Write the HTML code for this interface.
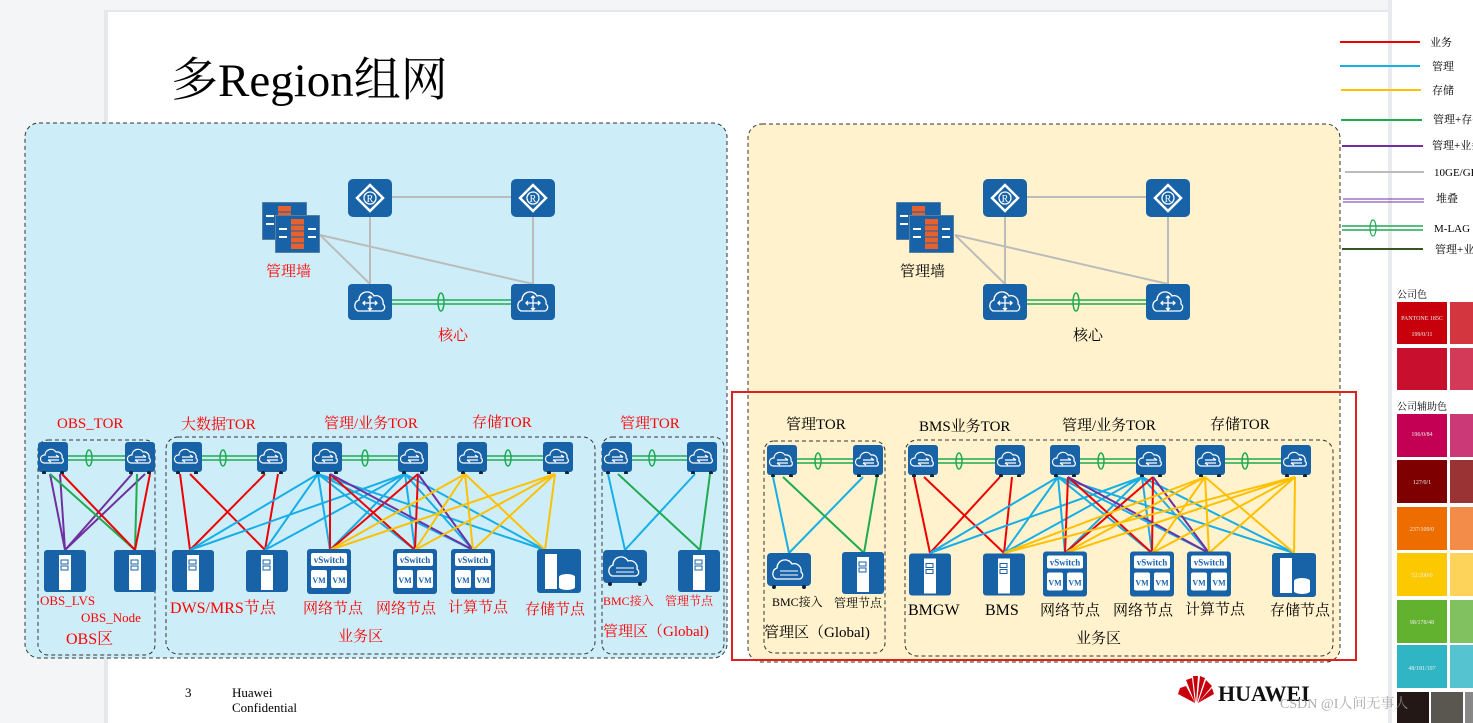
<!DOCTYPE html>
<html><head><meta charset="utf-8"><style>
html,body{margin:0;padding:0;width:1473px;height:723px;overflow:hidden;background:#f4f5f7}
svg{display:block}
text{font-family:"Liberation Serif","Noto Serif CJK SC","Noto Sans CJK SC",serif}
.r{fill:#f00}.k{fill:#000}
</style></head><body>
<svg width="1473" height="723" viewBox="0 0 1473 723" xmlns="http://www.w3.org/2000/svg">
<defs>
<symbol id="sw" viewBox="0 0 30 32"><rect x="0" y="0" width="30" height="30" rx="3" fill="#1862a8"/><path d="M6 21 a4 4 0 0 1 1-8 a6 6 0 0 1 11-3 a5 5 0 0 1 6 6 a3 3 0 0 1 0 5z" fill="none" stroke="#fff" stroke-width="1.2"/><path d="M10 15h11M18 13l3 2M10 18h11M10 18l3 2" stroke="#fff" stroke-width="1.2" fill="none"/><circle cx="6" cy="31" r="2" fill="#123"/><circle cx="24" cy="31" r="2" fill="#123"/></symbol>
<symbol id="rt" viewBox="0 0 44 38"><rect width="44" height="38" rx="5" fill="#1862a8"/><path d="M22 6 L35 19 L22 32 L9 19Z" fill="none" stroke="#fff" stroke-width="2.5"/><circle cx="22" cy="19" r="6" fill="none" stroke="#fff" stroke-width="1.3"/><text x="22" y="23" font-size="10" fill="#fff" text-anchor="middle" font-family="Liberation Sans,sans-serif">R</text></symbol>
<symbol id="cr" viewBox="0 0 44 36"><rect width="44" height="36" rx="4" fill="#1862a8"/><path d="M10 27 a6 6 0 0 1 1-11 a8 8 0 0 1 15-4 a7 7 0 0 1 9 8 a4 4 0 0 1-1 7z" fill="none" stroke="#fff" stroke-width="1.3"/><path d="M22 12v14M15 19h14M20 14l2-2 2 2M20 24l2 2 2-2M17 17l-2 2 2 2M27 17l2 2-2 2" fill="none" stroke="#fff" stroke-width="1.3"/></symbol>
<symbol id="fw" viewBox="0 0 45 38"><rect width="45" height="38" fill="#1862a8" stroke="#999"/><rect x="16" y="4" width="13" height="30" fill="#e8602c"/><path d="M16 10h13M16 16h13M16 22h13M16 28h13" stroke="#1862a8"/><path d="M4 14h8M4 22h8M33 14h8M33 22h8" stroke="#fff" stroke-width="2"/></symbol>
<symbol id="sv" viewBox="0 0 42 42"><rect width="42" height="42" rx="3" fill="#1862a8"/><rect x="15" y="5" width="12" height="35" fill="#fff"/><rect x="17" y="10" width="7" height="4" fill="none" stroke="#1862a8"/><rect x="17" y="16" width="7" height="4" fill="none" stroke="#1862a8"/></symbol>
<symbol id="st" viewBox="0 0 44 44"><rect width="44" height="44" rx="3" fill="#1862a8"/><rect x="8" y="5" width="12" height="35" fill="#fff"/><ellipse cx="30" cy="28" rx="8" ry="3" fill="#fff"/><rect x="22" y="28" width="16" height="10" fill="#fff"/><ellipse cx="30" cy="38" rx="8" ry="3" fill="#fff"/></symbol>
<symbol id="vs" viewBox="0 0 44 45"><rect width="44" height="45" rx="3" fill="#1862a8"/><rect x="4" y="4" width="36" height="13" rx="2" fill="#fff"/><text x="22" y="14" font-size="9" font-weight="bold" fill="#1862a8" text-anchor="middle" font-family="Liberation Sans,sans-serif">vSwitch</text><rect x="4" y="21" width="16" height="18" rx="2" fill="#fff"/><rect x="24" y="21" width="16" height="18" rx="2" fill="#fff"/><text x="12" y="34" font-size="8" font-weight="bold" fill="#1862a8" text-anchor="middle" font-family="Liberation Sans,sans-serif">VM</text><text x="32" y="34" font-size="8" font-weight="bold" fill="#1862a8" text-anchor="middle" font-family="Liberation Sans,sans-serif">VM</text></symbol>
<symbol id="bm" viewBox="0 0 44 36"><rect width="44" height="33" rx="4" fill="#1862a8"/><path d="M9 26 a6 6 0 0 1 1-11 a8 8 0 0 1 15-4 a7 7 0 0 1 9 8 a4 4 0 0 1-1 7z" fill="none" stroke="#fff" stroke-width="1.3"/><path d="M13 18h18M13 22h18" stroke="#fff"/><circle cx="7" cy="34" r="2" fill="#123"/><circle cx="37" cy="34" r="2" fill="#123"/></symbol>
</defs>

<rect x="104" y="10" width="1288" height="713" fill="#e6e7ea"/>
<rect x="108" y="12" width="1280" height="711" fill="#fff"/>
<rect x="1388" y="0" width="4" height="723" fill="#e9eaed"/>
<rect x="1392" y="0" width="81" height="723" fill="#fff"/>
<text x="171" y="96" font-size="47">多Region组网</text>

<rect x="25" y="123" width="702" height="535" rx="14" fill="#cdeef9" stroke="#333" stroke-dasharray="4 3"/>
<rect x="748" y="124" width="592" height="538" rx="14" fill="#fff2cc" stroke="#333" stroke-dasharray="4 3"/>
<rect x="732" y="392" width="624" height="268" fill="none" stroke="#e02020" stroke-width="2"/>
<g fill="none" stroke="#333" stroke-dasharray="4 3">
<rect x="38" y="440" width="117" height="215" rx="10"/>
<rect x="166" y="437" width="429" height="217" rx="12"/>
<rect x="602" y="437" width="122" height="217" rx="10"/>
<rect x="764" y="441" width="121" height="212" rx="10"/>
<rect x="905" y="440" width="428" height="216" rx="12"/>
</g>

<g stroke="#bbb" stroke-width="2" fill="none">
<path d="M392 197H511M370 216V284M533 216V284M320 235L370 284M320 235L533 284"/>
<path d="M1027 197H1146M1005 216V284M1168 216V284M955 235L1005 284M955 235L1168 284"/>
</g>
<g stroke="#1faa50" stroke-width="1.5" fill="none">
<path d="M392 300H511M392 304H511M1027 300H1146M1027 304H1146"/>
<ellipse cx="441" cy="302" rx="3" ry="9"/><ellipse cx="1076" cy="302" rx="3" ry="9"/>
</g>
<use href="#rt" x="348" y="179" width="44" height="38"/><use href="#rt" x="511" y="179" width="44" height="38"/>
<use href="#rt" x="983" y="179" width="44" height="38"/><use href="#rt" x="1146" y="179" width="44" height="38"/>
<use href="#cr" x="348" y="284" width="44" height="36"/><use href="#cr" x="511" y="284" width="44" height="36"/>
<use href="#cr" x="983" y="284" width="44" height="36"/><use href="#cr" x="1146" y="284" width="44" height="36"/>
<use href="#fw" x="262" y="202" width="45" height="38"/><use href="#fw" x="275" y="215" width="45" height="38"/>
<use href="#fw" x="896" y="202" width="45" height="38"/><use href="#fw" x="909" y="215" width="45" height="38"/>
<text x="266" y="276" font-size="15" class="r" font-family="Liberation Sans,'Noto Sans CJK SC',sans-serif">管理墙</text>
<text x="438" y="340" font-size="15" class="r" font-family="Liberation Sans,'Noto Sans CJK SC',sans-serif">核心</text>
<text x="900" y="276" font-size="15" class="k" font-family="Liberation Sans,'Noto Sans CJK SC',sans-serif">管理墙</text>
<text x="1073" y="340" font-size="15" class="k" font-family="Liberation Sans,'Noto Sans CJK SC',sans-serif">核心</text>

<g stroke-width="2" fill="none">
<path stroke="#7030a0" d="M50 474L65 550M60 474L65 550M132 474L65 550M145 474L65 550"/>
<path stroke="#1faa50" d="M50 474L135 550M137 474L135 550"/>
<path stroke="#e00" d="M62 474L135 550M150 474L135 550"/>
<path stroke="#e00" d="M180 474L190 550M190 474L265 550M265 474L190 550M278 474L265 550"/>
<path stroke="#17aee8" d="M318 474L190 550M318 474L265 550M318 474L330 550M318 474L415 550M318 474L473 550M318 474L545 550M405 474L190 550M405 474L265 550M405 474L330 550M405 474L415 550M405 474L473 550M405 474L545 550"/>
<path stroke="#e00" d="M330 474L330 550M330 474L415 550M418 474L330 550M418 474L415 550"/>
<path stroke="#7030a0" d="M330 474L473 550M418 474L473 550"/>
<path stroke="#ffc000" d="M465 474L330 550M465 474L415 550M465 474L473 550M465 474L545 550M555 474L330 550M555 474L415 550M555 474L473 550M555 474L545 550"/>
<path stroke="#17aee8" d="M608 474L625 550M695 474L625 550"/>
<path stroke="#1faa50" d="M618 474L700 550M710 474L700 550"/>
</g>
<g stroke-width="2" fill="none">
<path stroke="#17aee8" d="M773 477L789 553M863 477L789 553"/>
<path stroke="#1faa50" d="M783 477L864 553M877 477L864 553"/>
<path stroke="#e00" d="M914 477L930 553M924 477L1004 553M1000 477L930 553M1012 477L1004 553"/>
<path stroke="#17aee8" d="M1058 477L930 553M1058 477L1004 553M1058 477L1065 553M1058 477L1152 553M1058 477L1209 553M1058 477L1294 553M1142 477L930 553M1142 477L1004 553M1142 477L1065 553M1142 477L1152 553M1142 477L1209 553M1142 477L1294 553"/>
<path stroke="#e00" d="M1068 477L1065 553M1068 477L1152 553M1153 477L1065 553M1153 477L1152 553"/>
<path stroke="#7030a0" d="M1068 477L1209 553M1153 477L1209 553"/>
<path stroke="#ffc000" d="M1205 477L1004 553M1205 477L1065 553M1205 477L1152 553M1205 477L1209 553M1205 477L1294 553M1295 477L1004 553M1295 477L1065 553M1295 477L1152 553M1295 477L1209 553M1295 477L1294 553"/>
</g>

<g stroke="#1faa50" stroke-width="1.5" fill="none">
<path d="M68 456H125M68 460H125M202 456H257M202 460H257M342 456H398M342 460H398M487 456H543M487 460H543M632 456H687M632 460H687"/>
<path d="M797 459H853M797 463H853M938 459H995M938 463H995M1080 459H1136M1080 463H1136M1225 459H1281M1225 463H1281"/>
<g><ellipse cx="89" cy="458" rx="3" ry="8"/><ellipse cx="223" cy="458" rx="3" ry="8"/><ellipse cx="365" cy="458" rx="3" ry="8"/><ellipse cx="508" cy="458" rx="3" ry="8"/><ellipse cx="652" cy="458" rx="3" ry="8"/>
<ellipse cx="818" cy="461" rx="3" ry="8"/><ellipse cx="959" cy="461" rx="3" ry="8"/><ellipse cx="1101" cy="461" rx="3" ry="8"/><ellipse cx="1245" cy="461" rx="3" ry="8"/></g>
</g>

<g>
<use href="#sw" x="38" y="442" width="30" height="32"/><use href="#sw" x="125" y="442" width="30" height="32"/>
<use href="#sw" x="172" y="442" width="30" height="32"/><use href="#sw" x="257" y="442" width="30" height="32"/>
<use href="#sw" x="312" y="442" width="30" height="32"/><use href="#sw" x="398" y="442" width="30" height="32"/>
<use href="#sw" x="457" y="442" width="30" height="32"/><use href="#sw" x="543" y="442" width="30" height="32"/>
<use href="#sw" x="602" y="442" width="30" height="32"/><use href="#sw" x="687" y="442" width="30" height="32"/>
<use href="#sw" x="767" y="445" width="30" height="32"/><use href="#sw" x="853" y="445" width="30" height="32"/>
<use href="#sw" x="908" y="445" width="30" height="32"/><use href="#sw" x="995" y="445" width="30" height="32"/>
<use href="#sw" x="1050" y="445" width="30" height="32"/><use href="#sw" x="1136" y="445" width="30" height="32"/>
<use href="#sw" x="1195" y="445" width="30" height="32"/><use href="#sw" x="1281" y="445" width="30" height="32"/>
</g>
<use href="#sv" x="44" y="550" width="42" height="42"/><use href="#sv" x="114" y="550" width="42" height="42"/>
<use href="#sv" x="172" y="550" width="42" height="42"/><use href="#sv" x="246" y="550" width="42" height="42"/>
<use href="#vs" x="307" y="549" width="44" height="45"/><use href="#vs" x="393" y="549" width="44" height="45"/><use href="#vs" x="451" y="549" width="44" height="45"/>
<use href="#st" x="537" y="549" width="44" height="44"/>
<use href="#bm" x="603" y="550" width="44" height="36"/><use href="#sv" x="678" y="550" width="42" height="42"/>
<use href="#bm" x="767" y="553" width="44" height="36"/><use href="#sv" x="842" y="552" width="42" height="42"/>
<use href="#sv" x="909" y="553" width="42" height="43"/><use href="#sv" x="983" y="553" width="42" height="43"/>
<use href="#vs" x="1043" y="551" width="44" height="46"/><use href="#vs" x="1130" y="551" width="44" height="46"/><use href="#vs" x="1187" y="551" width="44" height="46"/>
<use href="#st" x="1272" y="553" width="44" height="44"/>

<g class="r" font-size="15">
<text x="57" y="428">OBS_TOR</text><text x="181" y="429">大数据TOR</text><text x="324" y="428">管理/业务TOR</text><text x="472" y="427">存储TOR</text><text x="620" y="428">管理TOR</text>
<text x="40" y="605" font-size="13">OBS_LVS</text><text x="81" y="622" font-size="13">OBS_Node</text><text x="66" y="644" font-size="16">OBS区</text>
<text x="170" y="613" font-size="16">DWS/MRS节点</text><text x="303" y="613" font-size="15">网络节点</text><text x="376" y="613" font-size="15">网络节点</text><text x="448" y="612" font-size="15">计算节点</text><text x="525" y="614" font-size="15">存储节点</text>
<text x="338" y="641" font-size="15">业务区</text>
<text x="603" y="605" font-size="12">BMC接入</text><text x="665" y="605" font-size="12">管理节点</text>
<text x="603" y="636" font-size="15">管理区（Global)</text>
</g>
<g class="k" font-size="15">
<text x="786" y="429">管理TOR</text><text x="919" y="431">BMS业务TOR</text><text x="1062" y="430">管理/业务TOR</text><text x="1210" y="429">存储TOR</text>
<text x="772" y="606" font-size="12">BMC接入</text><text x="834" y="607" font-size="12">管理节点</text>
<text x="764" y="637" font-size="15">管理区（Global)</text>
<text x="908" y="615" font-size="16">BMGW</text><text x="985" y="615" font-size="16">BMS</text><text x="1040" y="615">网络节点</text><text x="1113" y="615">网络节点</text><text x="1185" y="614">计算节点</text><text x="1270" y="615">存储节点</text>
<text x="1076" y="643">业务区</text>
</g>

<g stroke-width="2" fill="none">
<path d="M1340 42H1420" stroke="#e00"/><path d="M1340 66H1420" stroke="#17aee8"/><path d="M1341 90H1421" stroke="#ffc000"/>
<path d="M1341 120H1422" stroke="#1faa50"/><path d="M1342 146H1423" stroke="#7030a0"/><path d="M1345 172H1424" stroke="#bbb"/>
<path d="M1343 199H1424M1343 202H1424" stroke="#7030a0" stroke-width="1"/>
<path d="M1342 226H1423M1342 230H1423" stroke="#1faa50" stroke-width="1.5"/><ellipse cx="1373" cy="228" rx="3" ry="8" stroke="#1faa50" stroke-width="1.2"/>
<path d="M1342 249H1423" stroke="#375623"/>
</g>
<g font-size="11" class="k" font-family="'Noto Sans CJK SC',sans-serif">
<text x="1430" y="46">业务</text><text x="1432" y="70">管理</text><text x="1432" y="94">存储</text><text x="1433" y="123">管理+存储</text><text x="1432" y="149">管理+业务</text>
<text x="1434" y="176" font-family="Liberation Serif,serif">10GE/GE</text><text x="1436" y="202">堆叠</text><text x="1434" y="232" font-family="Liberation Serif,serif">M-LAG</text><text x="1435" y="253">管理+业务</text>
</g>
<g font-size="10" font-family="'Noto Sans CJK SC',sans-serif">
<text x="1397" y="298">公司色</text><text x="1397" y="410">公司辅助色</text>
</g>
<rect x="1397" y="302" width="50" height="42" fill="#c7000b"/><rect x="1450" y="302" width="23" height="42" fill="#d3363f"/>
<rect x="1397" y="348" width="50" height="42" fill="#c8102e"/><rect x="1450" y="348" width="23" height="42" fill="#d33a58"/>
<rect x="1397" y="414" width="50" height="43" fill="#c40054"/><rect x="1450" y="414" width="23" height="43" fill="#cb3a76"/>
<rect x="1397" y="460" width="50" height="43" fill="#7f0001"/><rect x="1450" y="460" width="23" height="43" fill="#993334"/>
<rect x="1397" y="507" width="50" height="43" fill="#ed6d00"/><rect x="1450" y="507" width="23" height="43" fill="#f28c48"/>
<rect x="1397" y="553" width="50" height="43" fill="#fcc800"/><rect x="1450" y="553" width="23" height="43" fill="#fdd35a"/>
<rect x="1397" y="600" width="50" height="43" fill="#62b230"/><rect x="1450" y="600" width="23" height="43" fill="#81c160"/>
<rect x="1397" y="645" width="50" height="43" fill="#30b5c5"/><rect x="1450" y="645" width="23" height="43" fill="#56c3d1"/>
<rect x="1397" y="692" width="32" height="31" fill="#231815"/><rect x="1431" y="692" width="32" height="31" fill="#59574f"/><rect x="1465" y="692" width="8" height="31" fill="#888"/>
<g fill="#eee" font-size="6" text-anchor="middle" font-family="Liberation Sans,sans-serif">
<text x="1422" y="320">PANTONE 185C</text><text x="1422" y="336">199/0/11</text><text x="1422" y="436">196/0/84</text><text x="1422" y="484">127/0/1</text><text x="1422" y="531">237/109/0</text><text x="1422" y="577">52/200/0</text><text x="1422" y="624">98/178/48</text><text x="1422" y="670">48/181/197</text>
</g>

<text x="185" y="697" font-size="13">3</text>
<text x="232" y="697" font-size="13">Huawei</text><text x="232" y="712" font-size="13">Confidential</text>
<g fill="#c7000b"><path d="M1195 703 L1180 688 L1186 686Z M1195 703 L1186 680 L1192 678Z M1196 703 L1193 676 L1198 676Z M1197 703 L1200 676 L1205 678Z M1198 703 L1206 680 L1212 686Z M1198 703 L1212 688 L1214 694Z M1195 703 L1178 694 L1180 688Z"/></g>
<text x="1218" y="701" font-size="22" font-weight="bold" font-family="Liberation Sans,sans-serif" fill="#111">HUAWEI</text>
<text x="1280" y="708" font-size="14" fill="#999" fill-opacity="0.8" font-family="Liberation Sans,'Noto Sans CJK SC',sans-serif">CSDN @I人间无事人</text>
</svg>
</body></html>
